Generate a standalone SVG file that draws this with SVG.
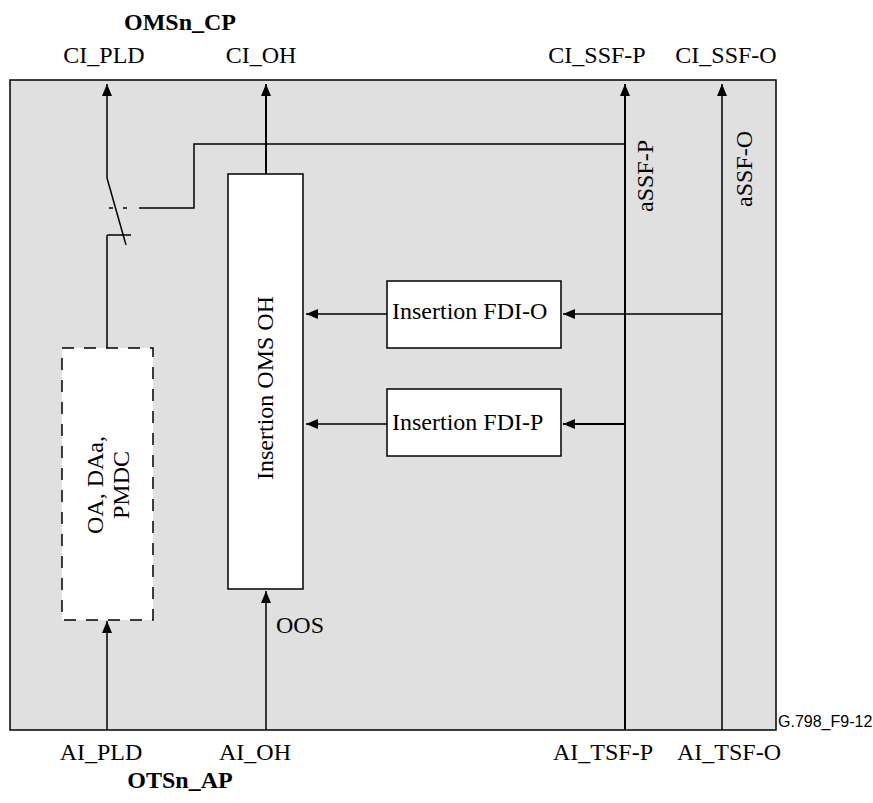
<svg xmlns="http://www.w3.org/2000/svg" width="873" height="803" viewBox="0 0 873 803">
<style>
text{font-family:"Liberation Serif","Times New Roman",serif;font-size:24px;fill:#000}
.b{font-weight:bold;font-size:24px}
.s{font-family:"Liberation Sans",Arial,sans-serif;font-size:16px}
.ln{fill:none;stroke:#000;stroke-width:1.5}
.th{stroke-width:2}
.box{fill:#fff;stroke:#000;stroke-width:1.5}
</style>
<defs>
<marker id="ah" viewBox="0 0 12 10" refX="12" refY="5" markerWidth="12" markerHeight="10" markerUnits="userSpaceOnUse" orient="auto">
<path d="M0,0 L12,5 L0,10 z" fill="#000"/>
</marker>
</defs>
<g id="frame">
<rect x="10" y="80" width="766" height="650" fill="#e0e0e0" stroke="#000" stroke-width="1.5"/>
</g>
<g id="labels">
<text class="b" x="180" y="30" text-anchor="middle">OMSn_CP</text>
<text x="104" y="63" text-anchor="middle">CI_PLD</text>
<text x="261" y="63" text-anchor="middle">CI_OH</text>
<text x="597" y="63" text-anchor="middle">CI_SSF-P</text>
<text x="726" y="63" text-anchor="middle">CI_SSF-O</text>
<text x="101" y="760" text-anchor="middle">AI_PLD</text>
<text x="255" y="760" text-anchor="middle">AI_OH</text>
<text x="603" y="760" text-anchor="middle">AI_TSF-P</text>
<text x="729" y="760" text-anchor="middle">AI_TSF-O</text>
<text class="b" x="180" y="788" text-anchor="middle">OTSn_AP</text>
<text class="s" x="778" y="727">G.798_F9-12</text>
<text x="276" y="633">OOS</text>
<text transform="translate(653,176) rotate(-90)" text-anchor="middle">aSSF-P</text>
<text transform="translate(752,169) rotate(-90)" text-anchor="middle">aSSF-O</text>
</g>
<g id="connectors">
<line class="ln" x1="107" y1="178" x2="107" y2="84" marker-end="url(#ah)"/>
<line class="ln" x1="107" y1="178" x2="126" y2="245"/>
<line class="ln" x1="107" y1="235" x2="131" y2="235"/>
<line class="ln" x1="107" y1="235" x2="107" y2="348"/>
<line class="ln" x1="109" y1="208" x2="113" y2="208"/>
<line class="ln" x1="123" y1="208" x2="127" y2="208"/>
<polyline class="ln" points="139,208 194,208 194,144 625,144"/>
<line class="ln" x1="107" y1="730" x2="107" y2="621" marker-end="url(#ah)"/>
<line class="ln th" x1="266" y1="174" x2="266" y2="84" marker-end="url(#ah)"/>
<line class="ln" x1="266" y1="730" x2="266" y2="591" marker-end="url(#ah)"/>
<line class="ln th" x1="625" y1="730" x2="625" y2="84" marker-end="url(#ah)"/>
<line class="ln" x1="722" y1="730" x2="722" y2="84" marker-end="url(#ah)"/>
<line class="ln" x1="722" y1="314" x2="563" y2="314" marker-end="url(#ah)"/>
<line class="ln" x1="387" y1="314" x2="306" y2="314" marker-end="url(#ah)"/>
<line class="ln th" x1="625" y1="424" x2="563" y2="424" marker-end="url(#ah)"/>
<line class="ln" x1="387" y1="424" x2="306" y2="424" marker-end="url(#ah)"/>
</g>
<g id="oa">
<rect x="62" y="348" width="91" height="272" fill="#fff" stroke="#000" stroke-width="1.5" stroke-dasharray="12 10"/>
<text transform="translate(103,485) rotate(-90)" text-anchor="middle">OA, DAa,</text>
<text transform="translate(129,485) rotate(-90)" text-anchor="middle">PMDC</text>
</g>
<g id="omsoh">
<rect class="box" x="228" y="174" width="75" height="415"/>
<text transform="translate(273,388) rotate(-90)" text-anchor="middle">Insertion OMS OH</text>
</g>
<g id="fdio">
<rect class="box" x="387" y="281" width="174" height="67"/>
<text x="392" y="319">Insertion FDI-O</text>
</g>
<g id="fdip">
<rect class="box" x="387" y="389" width="174" height="67"/>
<text x="392" y="430">Insertion FDI-P</text>
</g>
</svg>
